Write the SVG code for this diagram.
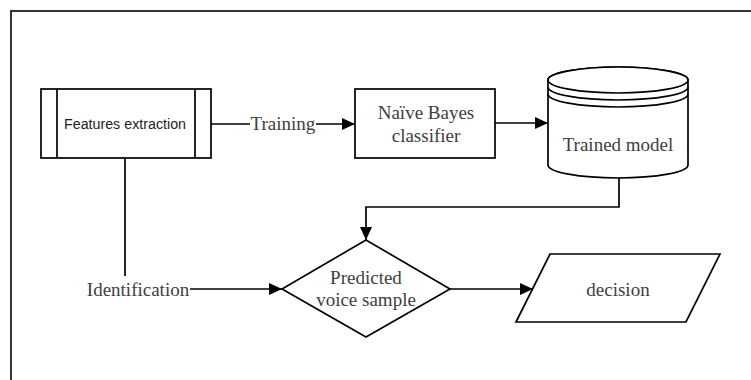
<svg xmlns="http://www.w3.org/2000/svg" width="751" height="380" viewBox="0 0 751 380">
  <defs>
    <marker id="arrow" markerWidth="13" markerHeight="12" refX="13" refY="6" orient="auto" markerUnits="userSpaceOnUse">
      <path d="M0,0 L13,6 L0,12 Z" fill="#000"/>
    </marker>
    <style>
      .shape { fill: #fff; stroke: #000; stroke-width: 1.7; }
      .edge { fill: none; stroke: #000; stroke-width: 1.7; }
      .label { font-family: "Liberation Serif", "Times New Roman", serif; font-size: 19px; fill: #404040; text-anchor: middle; }
      .sans { font-family: "Liberation Sans", Arial, sans-serif; font-size: 14px; fill: #222; text-anchor: middle; }
    </style>
  </defs>

  <rect width="751" height="380" fill="#fff"/>
  <!-- outer frame (runs past the right and bottom edges) -->
  <rect x="11" y="11" width="760" height="400" fill="none" stroke="#333" stroke-width="2"/>

  <g id="features-extraction">
    <rect class="shape" x="41" y="89" width="170" height="69"/>
    <line class="edge" x1="57" y1="89" x2="57" y2="158"/>
    <line class="edge" x1="195" y1="89" x2="195" y2="158"/>
    <text class="sans" x="125" y="129" textLength="122" lengthAdjust="spacingAndGlyphs">Features extraction</text>
  </g>

  <g id="naive-bayes">
    <rect class="shape" x="355" y="89" width="140" height="69"/>
    <text class="label" x="426" y="119">Naïve Bayes</text>
    <text class="label" x="426" y="142">classifier</text>
  </g>

  <g id="trained-model">
    <path class="shape" d="M548,80 L548,165 A70,13 0 0 0 688,165 L688,80 A70,13 0 0 0 548,80 Z"/>
    <ellipse class="shape" cx="618" cy="80" rx="70" ry="13"/>
    <path class="edge" d="M548,87 A70,13 0 0 0 688,87"/>
    <path class="edge" d="M548,94 A70,13 0 0 0 688,94"/>
    <text class="label" x="618" y="151">Trained model</text>
  </g>

  <g id="predicted-voice-sample">
    <path class="shape" d="M366,240 L450,289 L366,337 L282,289 Z"/>
    <text class="label" x="366" y="284">Predicted</text>
    <text class="label" x="366" y="306">voice sample</text>
  </g>

  <g id="decision">
    <path class="shape" d="M550,254 L720,254 L686,322 L516,322 Z"/>
    <text class="label" x="618" y="296">decision</text>
  </g>

  <g id="connectors">
    <line class="edge" x1="211" y1="124" x2="250" y2="124"/>
    <line class="edge" x1="316" y1="124" x2="355" y2="124" marker-end="url(#arrow)"/>
    <text class="label" x="283" y="130">Training</text>

    <line class="edge" x1="495" y1="123" x2="548" y2="123" marker-end="url(#arrow)"/>

    <path class="edge" d="M619,178 L619,207 L366,207 L366,240" marker-end="url(#arrow)"/>

    <line class="edge" x1="125" y1="158" x2="125" y2="276"/>
    <text class="label" x="138" y="296">Identification</text>
    <line class="edge" x1="190" y1="289" x2="282" y2="289" marker-end="url(#arrow)"/>

    <line class="edge" x1="450" y1="289" x2="533" y2="289" marker-end="url(#arrow)"/>
  </g>
</svg>
